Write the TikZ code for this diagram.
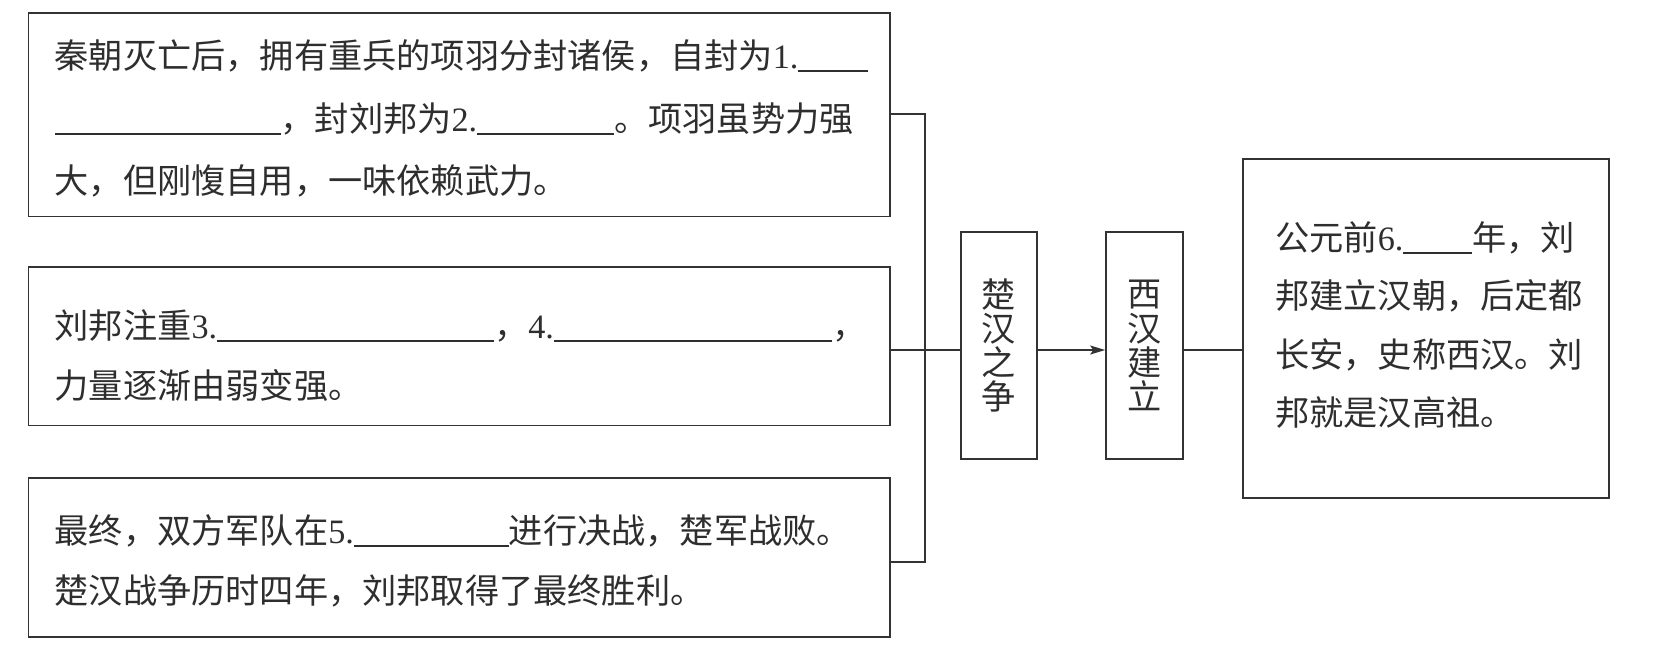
\documentclass[tikz,border=0pt]{standalone}
\usepackage{fontspec}
\setmainfont{Noto Sans CJK SC}
\newfontfamily\tnr{Liberation Serif}
\usetikzlibrary{arrows.meta}
\definecolor{ink}{HTML}{333333}
\definecolor{txt}{HTML}{2E2E2E}
\newcommand\blk[1]{\rule[-3.5pt]{#1pt}{1.1pt}}
\tikzset{
  frame/.style={draw=ink, line width=1.6pt, rectangle, inner sep=0pt},
  linetext/.style={anchor=base west, inner sep=0pt, text=txt, font=\fontsize{34.2pt}{34.2pt}\selectfont},
  vtext/.style={frame, align=center, text=txt, font=\fontsize{34.2pt}{34.2pt}\selectfont},
  conn/.style={draw=ink, line width=1.6pt},
  arr/.style={conn, -{Stealth[length=15pt,width=9pt,inset=3pt]}}
}
\begin{document}
\begin{tikzpicture}[x=1pt,y=-1pt]
\useasboundingbox (0,0) rectangle (1656,654);
% left boxes
\node[frame, minimum width=861.5pt, minimum height=203.8pt] (b1) at (459.25,114.6) {};
\node[frame, minimum width=861.5pt, minimum height=158.6pt] (b2) at (459.25,346.3) {};
\node[frame, minimum width=861.5pt, minimum height=159pt] (b3) at (459.25,557.5) {};
% middle boxes
\node[vtext, minimum width=76pt, minimum height=227pt] (chu) at (999,345.5) {楚\\汉\\之\\争};
\node[vtext, minimum width=77pt, minimum height=227pt] (xi) at (1144.5,345.5) {西\\汉\\建\\立};
% right box
\node[frame, minimum width=366pt, minimum height=339pt] (big) at (1426,328.5) {};
% texts of box 1
\node[linetext] (b1l1) at (54.4,68) {秦朝灭亡后，拥有重兵的项羽分封诸侯，自封为{\tnr 1.}\blk{70}};
\node[linetext] (b1l2) at (54.4,131) {\blk{226}，封刘邦为{\tnr 2.}\blk{137}。项羽虽势力强};
\node[linetext] (b1l3) at (54.4,193) {大，但刚愎自用，一味依赖武力。};
% texts of box 2
\node[linetext] (b2l1) at (54.5,338) {刘邦注重{\tnr 3.}\blk{277}，{\tnr 4.}\blk{278}，};
\node[linetext] (b2l2) at (54.5,398) {力量逐渐由弱变强。};
% texts of box 3
\node[linetext] (b3l1) at (54.5,543) {最终，双方军队在{\tnr 5.}\blk{155}进行决战，楚军战败。};
\node[linetext] (b3l2) at (54.5,603) {楚汉战争历时四年，刘邦取得了最终胜利。};
% texts of right box
\node[linetext] (r1) at (1275,250) {公元前{\tnr 6.}\blk{69}年，刘};
\node[linetext] (r2) at (1275,308.5) {邦建立汉朝，后定都};
\node[linetext] (r3) at (1275,367) {长安，史称西汉。刘};
\node[linetext] (r4) at (1275,425.5) {邦就是汉高祖。};
% connectors
\coordinate (bt) at (925,114);
\coordinate (bb) at (925,562);
\coordinate (m) at (925,350);
\draw[conn] (b1.east |- bt) -- (bt) -- (bb) -- (b3.east |- bb);
\draw[conn] (b2.east |- m) -- (chu.west |- m);
\draw[arr] (chu.east |- m) -- (xi.west |- m);
\draw[conn] (xi.east |- m) -- (big.west |- m);
\end{tikzpicture}
\end{document}
